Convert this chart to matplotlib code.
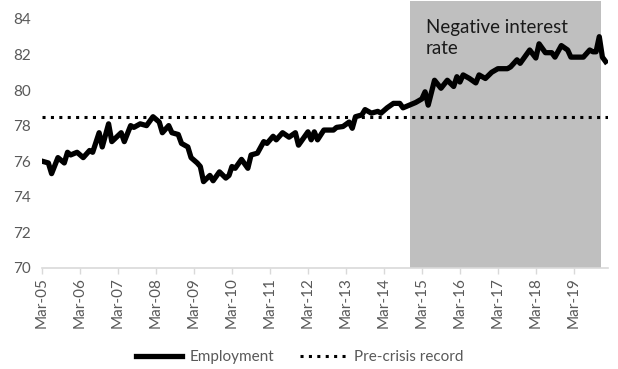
import matplotlib
matplotlib.use("Agg")
import matplotlib.pyplot as plt
import pandas as pd

# Employment rate readings (month, value)
months = [
    "2005-03", "2005-05", "2005-06", "2005-08", "2005-10", "2005-11", "2005-12",
    "2006-02", "2006-04", "2006-06", "2006-07", "2006-09", "2006-10", "2006-12",
    "2007-01", "2007-04", "2007-05", "2007-07", "2007-08", "2007-10", "2007-12",
    "2008-02", "2008-04", "2008-05", "2008-07", "2008-08", "2008-10", "2008-11",
    "2009-01", "2009-02", "2009-04", "2009-05", "2009-06", "2009-08", "2009-09",
    "2009-11", "2010-01", "2010-02", "2010-03", "2010-04", "2010-06", "2010-08",
    "2010-09", "2010-11", "2011-01", "2011-02", "2011-04", "2011-05", "2011-07",
    "2011-09", "2011-11", "2011-12", "2012-03", "2012-04", "2012-05", "2012-06",
    "2012-08", "2012-11", "2012-12", "2013-02", "2013-04", "2013-05", "2013-06",
    "2013-08", "2013-09", "2013-11", "2014-01", "2014-02", "2014-04", "2014-06",
    "2014-08", "2014-09", "2014-11", "2015-01", "2015-03", "2015-04", "2015-05",
    "2015-07", "2015-09", "2015-11", "2016-01", "2016-02", "2016-03", "2016-04",
    "2016-06", "2016-08", "2016-09", "2016-10", "2016-11", "2017-01", "2017-03",
    "2017-04", "2017-06", "2017-07", "2017-09", "2017-10", "2018-01", "2018-03",
    "2018-04", "2018-06", "2018-08", "2018-09", "2018-11", "2019-01", "2019-02",
    "2019-06", "2019-08", "2019-09", "2019-10", "2019-11", "2019-12", "2020-01",
]
employment = [
    76.0, 75.9, 75.3, 76.2, 75.9, 76.5, 76.35,
    76.5, 76.2, 76.6, 76.5, 77.6, 76.8, 78.1,
    77.1, 77.6, 77.1, 78.0, 77.9, 78.1, 78.0,
    78.5, 78.2, 77.6, 78.0, 77.6, 77.5, 77.0,
    76.8, 76.2, 75.9, 75.7, 74.85, 75.2, 74.9,
    75.4, 75.05, 75.2, 75.7, 75.6, 76.1, 75.6,
    76.35, 76.45, 77.1, 77.0, 77.4, 77.2, 77.6,
    77.35, 77.6, 76.9, 77.65, 77.2, 77.65, 77.2,
    77.75, 77.75, 77.9, 77.95, 78.2, 77.85, 78.5,
    78.6, 78.9, 78.7, 78.8, 78.7, 79.0, 79.25,
    79.25, 79.0, 79.15, 79.3, 79.5, 79.9, 79.15,
    80.55, 80.1, 80.55, 80.2, 80.75, 80.45, 80.85,
    80.65, 80.4, 80.85, 80.75, 80.65, 81.0, 81.2,
    81.2, 81.2, 81.3, 81.7, 81.5, 82.25, 81.8,
    82.6, 82.1, 82.1, 81.85, 82.5, 82.25, 81.85,
    81.85, 82.25, 82.15, 82.15, 83.0, 81.85, 81.6,
]
pre_crisis_record = 78.5
neg_rate_start = "2014-11-10"
neg_rate_end = "2019-11-15"
tick_years = list(range(2005, 2020))
y_ticks = [70, 72, 74, 76, 78, 80, 82, 84]

dates = pd.to_datetime(months, format="%Y-%m")

fig = plt.figure(figsize=(6.18, 3.69), dpi=100)
ax = fig.add_axes([0.068, 0.274, 0.916, 0.723])

ax.axvspan(pd.Timestamp(neg_rate_start), pd.Timestamp(neg_rate_end),
           color="#BFBFBF", lw=0, zorder=0)
ax.axhline(pre_crisis_record, color="black", lw=2.2,
           linestyle=(0, (1, 1.75)), label="Pre-crisis record", zorder=2)
ax.plot(dates, employment, color="black", lw=3.8, solid_joinstyle="round",
        label="Employment", zorder=3)

ax.set_ylim(70, 85)
ax.set_yticks(y_ticks)
ax.set_xlim(pd.Timestamp("2005-03-01"), pd.Timestamp("2020-01-25"))
tick_dates = [pd.Timestamp(f"{y}-03-01") for y in tick_years]
ax.set_xticks(tick_dates)
ax.set_xticklabels([d.strftime("%b-%y") for d in tick_dates], rotation=90)

for s in ["top", "right", "left"]:
    ax.spines[s].set_visible(False)
ax.spines["bottom"].set_color("#D9D9D9")
ax.spines["bottom"].set_linewidth(1.2)
ax.tick_params(axis="x", colors="#D9D9D9", length=4, width=1, labelcolor="#595959",
               labelsize=11, pad=3)
ax.tick_params(axis="y", length=0, labelcolor="#595959", labelsize=11, pad=8)
for lab in ax.get_xticklabels() + ax.get_yticklabels():
    lab.set_fontfamily("Lato")

ax.text(pd.Timestamp("2015-04-10"), 84.0, "Negative interest\nrate", fontsize=13.5,
        family="Lato", color="#1a1a1a", va="top", ha="left", linespacing=1.3)

handles, labels = ax.get_legend_handles_labels()
fig.legend(handles[::-1], labels[::-1], loc="lower center", bbox_to_anchor=(0.485, -0.025),
           ncol=2, frameon=False, handlelength=3.0, handletextpad=0.5, columnspacing=1.7,
           prop={"family": "Lato", "size": 11}, labelcolor="#595959")

fig.savefig("out.png", dpi=100)
